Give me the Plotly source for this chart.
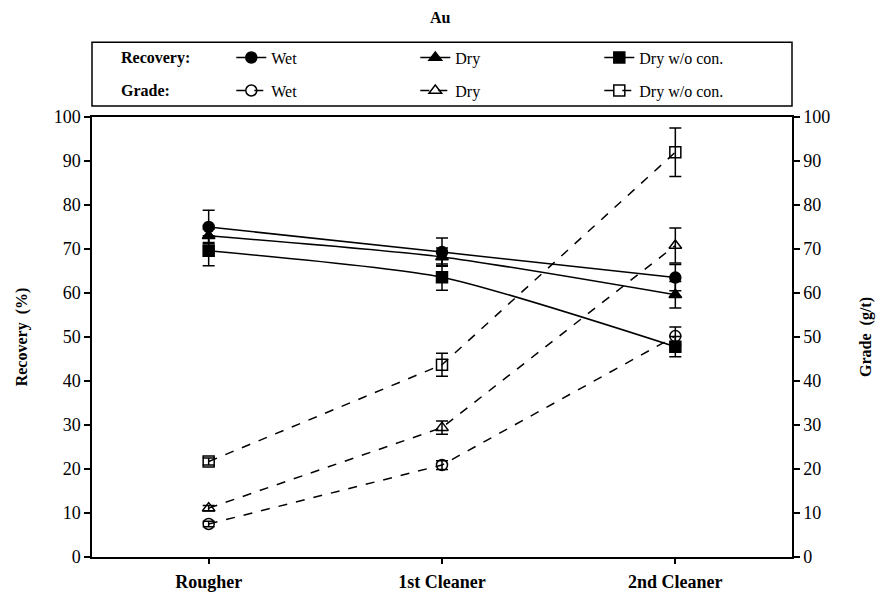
import plotly.graph_objects as go

# Flotation stages
stages = ["Rougher", "1st Cleaner", "2nd Cleaner"]

# Au recovery (%) with standard deviations
rec_wet = [75.0, 69.3, 63.5]
rec_wet_err = [3.8, 3.2, 3.0]
rec_dry = [73.0, 68.2, 59.6]
rec_dry_err = [1.5, 2.0, 3.0]
rec_drywo = [69.6, 63.6, 47.8]
rec_drywo_err = [3.4, 3.0, 2.3]

# Au grade (g/t) with standard deviations
grd_wet = [7.5, 20.9, 50.2]
grd_wet_err = [0.6, 1.0, 2.1]
grd_dry = [11.1, 29.4, 70.8]
grd_dry_err = [0.6, 1.5, 4.0]
grd_drywo = [21.7, 43.7, 92.0]
grd_drywo_err = [0.8, 2.6, 5.5]

FONT = "Liberation Serif"
BLACK = "#000000"

fig = go.Figure()


def add_series(y, err, name, symbol, dash, yaxis, legend, spline):
    fig.add_trace(go.Scatter(
        x=stages, y=y, name=name, yaxis=yaxis, legend=legend,
        mode="lines+markers",
        line=dict(color=BLACK, width=1.5, dash=dash,
                  shape="spline" if spline else "linear", smoothing=0.6),
        marker=dict(symbol=symbol, size=11, color=BLACK,
                    line=dict(color=BLACK, width=1.5)),
        error_y=dict(type="data", array=err, visible=True,
                     color=BLACK, thickness=1.5, width=6),
    ))


add_series(rec_wet, rec_wet_err, "Wet", "circle", "solid", "y", "legend", True)
add_series(rec_dry, rec_dry_err, "Dry", "triangle-up", "solid", "y", "legend", True)
add_series(rec_drywo, rec_drywo_err, "Dry w/o con.", "square", "solid", "y", "legend", True)
add_series(grd_wet, grd_wet_err, "Wet", "circle-open", "dash", "y2", "legend2", False)
add_series(grd_dry, grd_dry_err, "Dry", "triangle-up-open", "dash", "y2", "legend2", False)
add_series(grd_drywo, grd_drywo_err, "Dry w/o con.", "square-open", "dash", "y2", "legend2", False)

tick_font = dict(family=FONT, size=18, color=BLACK)
title_font = dict(family=FONT, size=16, color=BLACK)

legend_common = dict(
    orientation="h", xanchor="left", yanchor="middle",
    font=dict(family=FONT, size=16, color=BLACK),
    bgcolor="rgba(0,0,0,0)", borderwidth=0,
    entrywidth=139, entrywidthmode="pixels",
    traceorder="normal",
)

fig.update_layout(
    width=877, height=604,
    margin=dict(l=92, r=85, t=117, b=42),
    paper_bgcolor="white", plot_bgcolor="white",
    showlegend=True,
    font=dict(family=FONT, color=BLACK),
    title=dict(text="<b>Au</b>", x=0.502, xanchor="center", y=0.972, yanchor="middle",
               font=dict(family=FONT, size=16, color=BLACK)),
    xaxis=dict(
        type="category", range=[-0.5, 2.5],
        showline=True, mirror=True, linecolor=BLACK, linewidth=1.5,
        ticks="outside", ticklen=5, tickcolor=BLACK, tickwidth=1.5,
        tickfont=dict(family=FONT, size=18, color=BLACK),
        tickprefix="<b>", ticksuffix="</b>", ticklabelstandoff=3,
        showgrid=False, zeroline=False, fixedrange=True,
    ),
    yaxis=dict(
        range=[0, 100], dtick=10,
        showline=True, linecolor=BLACK, linewidth=1.5,
        ticks="outside", ticklen=6, tickcolor=BLACK, tickwidth=1.5,
        tickfont=tick_font, showgrid=False, zeroline=False,
        title=dict(text="<b>Recovery  (%)</b>", font=title_font, standoff=22),
    ),
    yaxis2=dict(
        range=[0, 100], dtick=10, overlaying="y", side="right",
        showline=True, linecolor=BLACK, linewidth=1.5,
        ticks="outside", ticklen=6, tickcolor=BLACK, tickwidth=1.5,
        tickfont=tick_font, showgrid=False, zeroline=False,
    ),
    legend=dict(x=0.199, y=1.135, **legend_common),
    legend2=dict(x=0.199, y=1.06, **legend_common),
    shapes=[dict(type="rect", xref="paper", yref="paper",
                 x0=0.0, x1=1.0, y0=1.025, y1=1.17,
                 line=dict(color=BLACK, width=1.5))],
    annotations=[
        dict(text="<b>Recovery:</b>", xref="paper", yref="paper",
             x=0.038, y=1.135, xanchor="left", yanchor="middle", showarrow=False,
             font=dict(family=FONT, size=16, color=BLACK)),
        dict(text="<b>Grade:</b>", xref="paper", yref="paper",
             x=0.038, y=1.06, xanchor="left", yanchor="middle", showarrow=False,
             font=dict(family=FONT, size=16, color=BLACK)),
        # right-hand axis title
        dict(text="<b>Grade  (g/t)</b>", xref="paper", yref="paper",
             x=1.1057, y=0.5, xanchor="center", yanchor="middle",
             textangle=-90, showarrow=False, font=title_font),
    ],
)

fig.write_html("out.html")
